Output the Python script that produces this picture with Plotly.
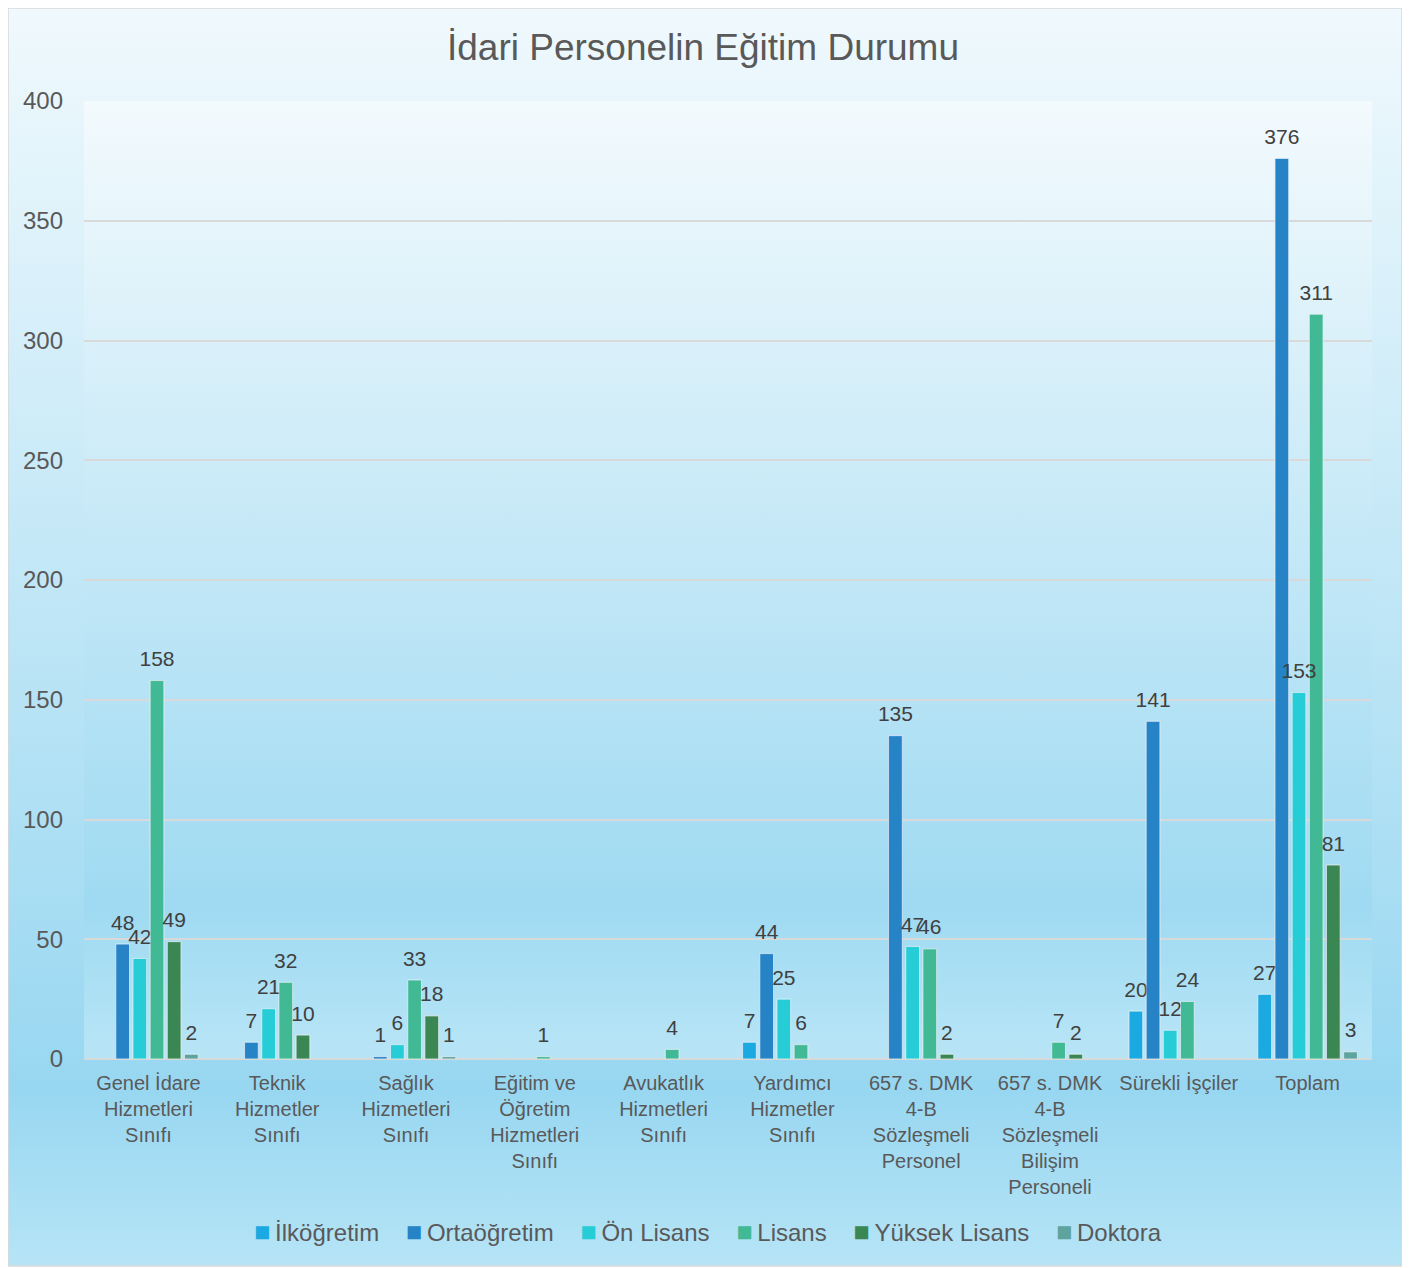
import base64
import plotly.graph_objects as go

# chart values
categories = [
    "Genel İdare<br>Hizmetleri<br>Sınıfı",
    "Teknik<br>Hizmetler<br>Sınıfı",
    "Sağlık<br>Hizmetleri<br>Sınıfı",
    "Eğitim ve<br>Öğretim<br>Hizmetleri<br>Sınıfı",
    "Avukatlık<br>Hizmetleri<br>Sınıfı",
    "Yardımcı<br>Hizmetler<br>Sınıfı",
    "657 s. DMK<br>4-B<br>Sözleşmeli<br>Personel",
    "657 s. DMK<br>4-B<br>Sözleşmeli<br>Bilişim<br>Personeli",
    "Sürekli İşçiler",
    "Toplam",
]
ilkogretim = [None, None, None, None, None, 7, None, None, 20, 27]
ortaogretim = [48, 7, 1, None, None, 44, 135, None, 141, 376]
on_lisans = [42, 21, 6, None, None, 25, 47, None, 12, 153]
lisans = [158, 32, 33, 1, 4, 6, 46, 7, 24, 311]
yuksek_lisans = [49, 10, 18, None, None, None, 2, 2, None, 81]
doktora = [2, None, 1, None, None, None, None, None, None, 3]

series = [
    ("İlköğretim", ilkogretim, "#1aa9e1"),
    ("Ortaöğretim", ortaogretim, "#2583c6"),
    ("Ön Lisans", on_lisans, "#27cdd6"),
    ("Lisans", lisans, "#42b995"),
    ("Yüksek Lisans", yuksek_lisans, "#3b8753"),
    ("Doktora", doktora, "#5da39e"),
]

FONT = "Liberation Sans, Arial, sans-serif"
# the page adds an 8px body margin, so the figure is drawn 8px in from the corner
W, H = 1402, 1260
L, R, T, B = 76, 38, 93, 209
PW, PH = W - L - R, H - T - B


def gradient(stops):
    s = "".join(f'<stop offset="{o}" stop-color="{c}"/>' for o, c in stops)
    svg = ('<svg xmlns="http://www.w3.org/2000/svg" width="100" height="100" '
           'preserveAspectRatio="none"><defs><linearGradient id="g" x1="0" y1="0" '
           f'x2="0" y2="1">{s}</linearGradient></defs>'
           '<rect width="100" height="100" fill="url(#g)"/></svg>')
    return "data:image/svg+xml;base64," + base64.b64encode(svg.encode()).decode()


outer_bg = gradient([(0, "#f0f9fd"), (0.86, "#98d7f1"), (1, "#b6e4f6")])
plot_bg = gradient([(0, "#f3fafd"), (0.84, "#9fdaf2"), (1, "#b8e5f6")])

# padding glyphs (subscript, blank) lift the value labels a little off the bars
pad = "<sub><span style='font-size:34px'>\u00a0</span></sub>"

fig = go.Figure()

for name, vals, color in series:
    fig.add_trace(go.Bar(
        name=name,
        x=categories,
        y=vals,
        offsetgroup=name,
        marker=dict(color=color, line=dict(color="rgba(255,255,255,0.35)", width=1)),
        showlegend=False,
        hoverinfo="skip",
    ))

# value labels on invisible copies, added last so they sit above every bar
for name, vals, color in series:
    fig.add_trace(go.Bar(
        name=name,
        x=categories,
        y=vals,
        offsetgroup=name,
        marker=dict(color="rgba(0,0,0,0)"),
        text=[None if v is None else f"{pad}{v}{pad}" for v in vals],
        textposition="outside",
        constraintext="none",
        textfont=dict(size=21, color="#404040", family=FONT),
        cliponaxis=False,
        showlegend=False,
    ))

# legend drawn as one centred line of text, Excel style
legend_text = "\u00a0\u00a0\u00a0\u00a0".join(
    f"<span style='color:{c};font-size:27px'>■</span>\u2009{n}" for n, _, c in series
)

# chart-area box in paper coordinates
ox0, ox1 = (0 - L) / PW, (1394 - L) / PW
oy1, oy0 = 1 + T / PH, -(1258 - (H - B)) / PH

fig.update_layout(
    width=W, height=H,
    margin=dict(l=L, r=R, t=T, b=B),
    paper_bgcolor="white",
    plot_bgcolor="rgba(0,0,0,0)",
    font=dict(family=FONT, color="#595959"),
    barmode="group",
    bargap=0.2,
    bargroupgap=0.2,
    title=dict(text="İdari Personelin Eğitim Durumu", x=(703 - 8) / W, xref="container",
               xanchor="center", y=1 - 39 / H, yanchor="middle",
               font=dict(size=37, color="#595959")),
    annotations=[
        dict(text=legend_text, xref="paper", yref="paper",
             x=(708 - 8 - L) / PW, y=-(1224 - (H - B)) / PH,
             xanchor="center", yanchor="middle", showarrow=False,
             font=dict(size=24, color="#595959")),
    ],
    images=[
        dict(source=outer_bg, xref="paper", yref="paper", x=ox0, y=oy1,
             sizex=ox1 - ox0, sizey=oy1 - oy0, sizing="stretch",
             xanchor="left", yanchor="top", layer="below"),
        dict(source=plot_bg, xref="paper", yref="paper", x=0, y=1,
             sizex=1, sizey=1, sizing="stretch",
             xanchor="left", yanchor="top", layer="below"),
    ],
    shapes=[
        dict(type="rect", xref="paper", yref="paper", x0=ox0, x1=ox1, y0=oy0, y1=oy1,
             line=dict(color="#d9d9d9", width=1.5), fillcolor="rgba(0,0,0,0)"),
    ],
)

fig.update_xaxes(
    showgrid=False, showline=False, ticks="", ticklabelstandoff=10,
    tickfont=dict(size=20, color="#595959"),
)
fig.update_yaxes(
    range=[0, 400], dtick=50, tick0=0,
    showgrid=True, gridcolor="#d9d9d9", gridwidth=1.5,
    zeroline=True, zerolinecolor="#d9d9d9", zerolinewidth=2,
    showline=False, ticks="", ticklabelstandoff=20,
    tickfont=dict(size=24, color="#595959"),
)

fig.write_html("out.html")
